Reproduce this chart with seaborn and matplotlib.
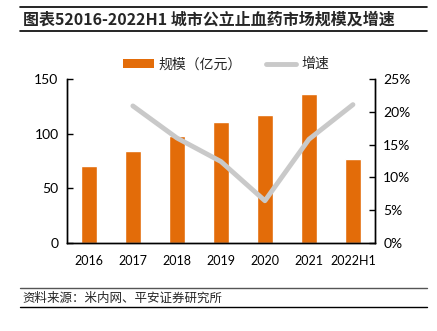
import matplotlib
matplotlib.use("Agg")
import matplotlib.pyplot as plt
import seaborn as sns
import pandas as pd
import numpy as np
from matplotlib.lines import Line2D
from matplotlib.patches import Patch

years = ["2016", "2017", "2018", "2019", "2020", "2021", "2022H1"]
scale = [70, 84.5, 97.5, 111, 117.5, 136.5, 77]
growth = [np.nan, 20.9, 16.0, 12.4, 6.4, 15.8, 21.1]
title = "图表52016-2022H1 城市公立止血药市场规模及增速"
source = "资料来源：米内网、平安证券研究所"

sns.set_theme(style="white")
plt.rcParams['font.family'] = ['Lato', 'Noto Sans CJK SC', 'DejaVu Sans']

bar_color = "#E36C09"
line_color = "#C9C9C9"

df = pd.DataFrame({"year": years, "scale": scale, "growth": growth, "pos": np.arange(len(years))})

fig = plt.figure(figsize=(4.37, 3.31), dpi=100)
ax = fig.add_axes([0.153, 0.267, 0.705, 0.494])
sns.barplot(data=df, x="year", y="scale", color=bar_color, width=0.38, saturation=1, ax=ax)
ax.set_xlim(-0.5, 6.5)
ax.set_ylim(0, 150)
ax.set_yticks([0, 50, 100, 150])
ax.set_xlabel("")
ax.set_ylabel("")

ax2 = ax.twinx()
sns.lineplot(data=df.dropna(), x="pos", y="growth", color=line_color, linewidth=3.5, ax=ax2)
ax2.set_ylim(0, 25)
ax2.set_yticks([0, 5, 10, 15, 20, 25])
ax2.set_yticklabels([f"{v}%" for v in [0, 5, 10, 15, 20, 25]])
ax2.set_xlim(-0.5, 6.5)
ax2.set_ylabel("")
ax2.set_xlabel("")

for a in (ax, ax2):
    for s in a.spines.values():
        s.set_color("#000000")
        s.set_linewidth(1.0)
    a.spines["top"].set_visible(False)
ax.tick_params(axis="y", direction="in", length=4, width=1, labelsize=10, colors="#000000", pad=6)
ax2.tick_params(axis="y", direction="in", length=4, width=1, labelsize=10, colors="#000000", pad=6)
ax.tick_params(axis="x", length=0, labelsize=9, colors="#000000", pad=9)
ax.grid(False)
ax2.grid(False)

handles = [Patch(facecolor=bar_color, edgecolor="none"), Line2D([0], [0], color=line_color, lw=3.5)]
fig.legend(handles, ["规模（亿元）", "增速"], loc="center", bbox_to_anchor=(226/437, 0.806), ncol=2,
           frameon=False, handlelength=2.2, handleheight=0.6, columnspacing=1.7,
           handletextpad=0.35, prop={'family': ['Noto Sans CJK SC'], 'size': 10})

# Title and lines
fig.add_artist(Line2D([20/437, 427/437], [1-7/331, 1-7/331], color="#000000", lw=1.2))
fig.add_artist(Line2D([20/437, 427/437], [1-31/331, 1-31/331], color="#000000", lw=1.2))
fig.text(23/437, 1-19.5/331, title, fontsize=11.5, fontweight="bold", va="center", ha="left",
         family=['Noto Sans CJK SC', 'DejaVu Sans'])

# Source footer
fig.add_artist(Line2D([20/437, 427/437], [1-288/331, 1-288/331], color="#555555", lw=1.0))
fig.add_artist(Line2D([20/437, 427/437], [1-307/331, 1-307/331], color="#000000", lw=1.0))
fig.text(22/437, 1-298/331, source, fontsize=9, va="center", ha="left", style="italic",
         family=['Noto Sans CJK SC', 'DejaVu Sans'])

fig.savefig("out.png", dpi=100)
